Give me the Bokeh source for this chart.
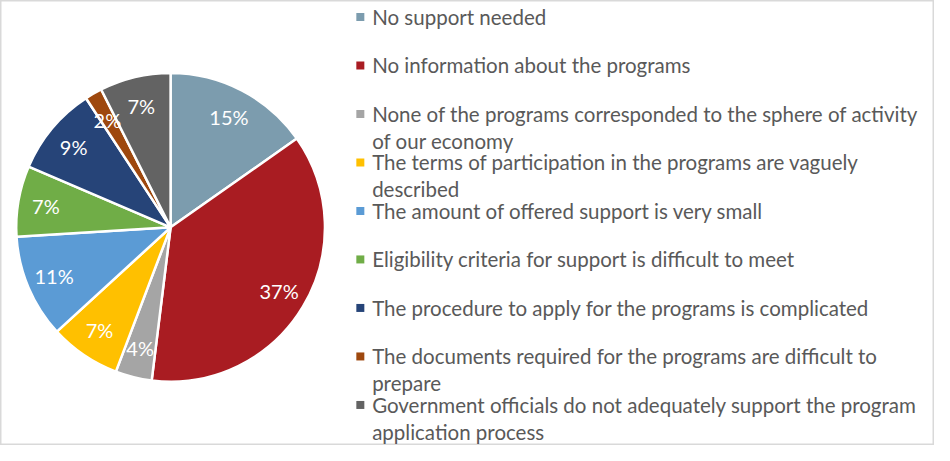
import math
from bokeh.plotting import figure
from bokeh.models import Range1d, ColumnDataSource
from bokeh.core.properties import value
from bokeh.embed import file_html
from bokeh.resources import INLINE

# ---- data ----
categories = [
    "No support needed",
    "No information about the programs",
    "None of the programs corresponded to the sphere of activity\nof our economy",
    "The terms of participation in the programs are vaguely\ndescribed",
    "The amount of offered support is very small",
    "Eligibility criteria for support is difficult to meet",
    "The procedure to apply for the programs is complicated",
    "The documents required for the programs are difficult to\nprepare",
    "Government officials do not adequately support the program\napplication process",
]
shares = [15.2, 36.6, 3.8, 7.4, 10.8, 7.4, 9.3, 1.8, 7.4]
colors = ["#7C9CAE", "#A91C22", "#A5A5A5", "#FFC000", "#5B9BD5",
          "#70AD47", "#264478", "#9E480E", "#636363"]

# ---- layout (data units = reference picture pixels, 950 x 461) ----
W, H = 934, 445
RW, RH = 950, 461
def sy(y_ref):
    return RH - y_ref

FONT = "Lato"
cx, cy, r = 173, sy(235), 157

total = sum(shares)
fr = [s / total for s in shares]
cum = [0.0]
for f in fr:
    cum.append(cum[-1] + f)
starts = [math.pi / 2 - 2 * math.pi * cum[i + 1] for i in range(len(fr))]
ends = [math.pi / 2 - 2 * math.pi * cum[i] for i in range(len(fr))]
mids = [(a + b) / 2 for a, b in zip(starts, ends)]
pct = [f"{round(f * 100)}%" for f in fr]

p = figure(width=W, height=H, output_backend="svg", toolbar_location=None,
           x_range=Range1d(0, RW), y_range=Range1d(0, RH),
           min_border=0, tools="")
p.axis.visible = False
p.xgrid.visible = False
p.ygrid.visible = False
p.outline_line_color = "#D9D9D9"
p.outline_line_width = 2
p.background_fill_color = "white"
p.border_fill_color = "white"

src = ColumnDataSource(dict(start=starts, end=ends, color=colors))
p.wedge(x=cx, y=cy, radius=r, start_angle="start", end_angle="end",
        direction="anticlock", fill_color="color", line_color="white",
        line_width=2.5, source=src)

lr = 0.82 * r
lab = ColumnDataSource(dict(
    x=[cx + lr * math.cos(m) for m in mids],
    y=[cy + lr * math.sin(m) for m in mids],
    t=pct))
p.text(x="x", y="y", text="t", source=lab, text_color="white",
       text_font=value(FONT), text_font_size="20px",
       text_align="center", text_baseline="middle")

# ---- legend ----
row0, step, lstep = 17, 50.25, 28
mx, tx = 366, 378
mk_y, txt_x, txt_y, txt_t = [], [], [], []
for i, c in enumerate(categories):
    ry = row0 + i * step
    mk_y.append(sy(ry))
    for k, line in enumerate(c.split("\n")):
        txt_x.append(tx)
        txt_y.append(sy(ry + k * lstep))
        txt_t.append(line)

p.scatter(x=[mx] * len(categories), y=mk_y, marker="square", size=8,
          fill_color=colors, line_color=None)
p.text(x=txt_x, y=txt_y, text=txt_t, text_color="#595959",
       text_font=value(FONT), text_font_size="20.5px",
       text_align="left", text_baseline="middle")

open("out.html", "w").write(file_html(p, INLINE))
